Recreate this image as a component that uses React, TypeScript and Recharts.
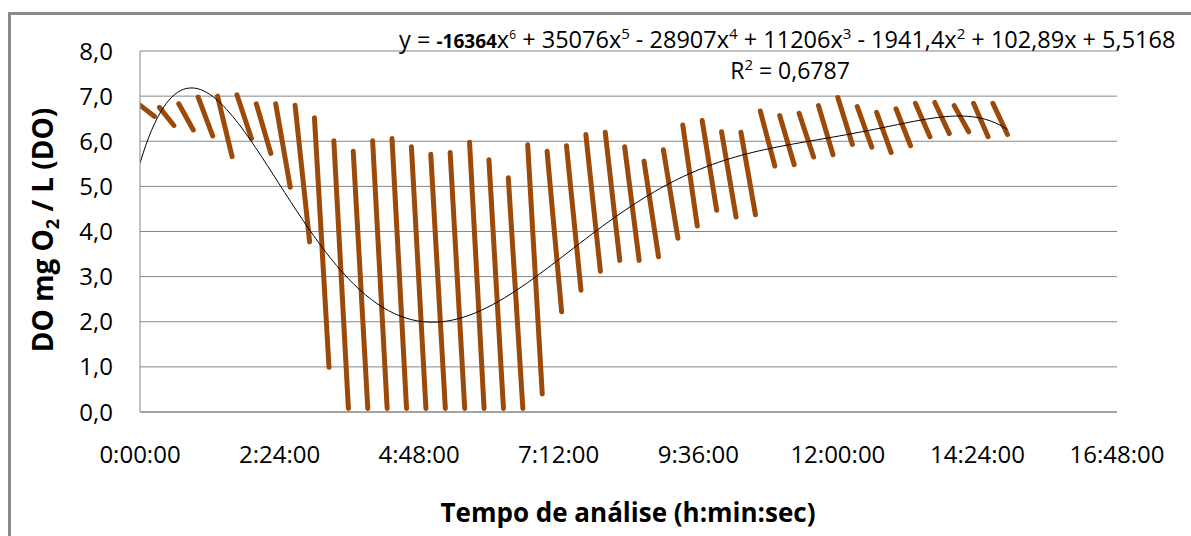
import React from "react";
import { LineChart, Line, XAxis, YAxis, CartesianGrid } from "recharts";

// dissolved oxygen probe runs: start of each run (min), reading at start and at end
const SEG_START_MIN = [
  0, 20, 40, 60, 80, 100, 120, 140, 160, 180, 200, 220, 240, 260, 280,
  300, 320, 340, 360, 380, 400, 420, 440, 460, 480, 500, 520, 540, 560, 580,
  600, 620, 640, 660, 680, 700, 720, 740, 760, 780, 800, 820, 840, 860, 880,
];
const SEG_TOP = [
  6.8, 6.75, 6.83, 6.98, 7.0, 7.03, 6.83, 6.83, 6.8, 6.52, 6.01, 5.78, 6.01, 6.06, 5.88,
  5.71, 5.75, 5.98, 5.59, 5.19, 5.92, 5.78, 5.9, 6.15, 6.2, 5.88, 5.56, 5.81, 6.36, 6.46,
  6.21, 6.2, 6.67, 6.57, 6.62, 6.79, 6.97, 6.77, 6.64, 6.72, 6.84, 6.86, 6.79, 6.84, 6.84,
];
const SEG_BOTTOM = [
  6.55, 6.35, 6.25, 6.12, 5.66, 6.06, 5.73, 4.98, 3.77, 0.99, 0.08, 0.08, 0.08, 0.08, 0.08,
  0.08, 0.08, 0.08, 0.08, 0.08, 0.4, 2.22, 2.7, 3.12, 3.36, 3.36, 3.44, 3.85, 4.12, 4.47,
  4.32, 4.37, 5.45, 5.48, 5.65, 5.7, 5.93, 5.87, 5.75, 5.9, 6.1, 6.17, 6.21, 6.1, 6.15,
];
const SEG_LENGTH_MIN = 15;

// polynomial trendline as printed on the chart (x in days), highest power first
const TREND_COEFS = [-16364, 35076, -28907, 11206, -1941.4, 102.89, 5.5168];

const X_TICKS = [0, 2.4, 4.8, 7.2, 9.6, 12, 14.4, 16.8];
const Y_TICKS = [0, 1, 2, 3, 4, 5, 6, 7, 8];

const doData: { t: number; v: number | null }[] = [];
SEG_START_MIN.forEach((s, i) => {
  doData.push({ t: s / 60, v: SEG_TOP[i] });
  doData.push({ t: (s + SEG_LENGTH_MIN) / 60, v: SEG_BOTTOM[i] });
  doData.push({ t: (s + SEG_LENGTH_MIN + 1) / 60, v: null });
});

const lastT = (SEG_START_MIN[SEG_START_MIN.length - 1] + SEG_LENGTH_MIN) / 60;
const trendData: { t: number; fit: number }[] = [];
for (let i = 0; i <= 150; i++) {
  const t = (lastT * i) / 150;
  const x = t / 24;
  const fit = TREND_COEFS.reduce((acc, c) => acc * x + c, 0);
  trendData.push({ t, fit });
}

const fmtTime = (h: number) => {
  const total = Math.round(h * 60);
  const hh = Math.floor(total / 60);
  const mm = total % 60;
  return `${hh}:${String(mm).padStart(2, "0")}:00`;
};

const FONT = "'Open Sans', sans-serif";
const GRID = "#868686";

export default function App() {
  return (
    <div style={{ position: "absolute", left: 0, top: 0, width: 1191, height: 536, background: "#fff" }}>
      <style>{`.do-series path, path.do-series, .do-series { stroke-linecap: round !important; stroke-linejoin: round !important; }`}</style>
      <div
        style={{
          position: "absolute",
          left: 8,
          top: 12,
          width: 1200,
          height: 600,
          borderLeft: "3px solid #8a8a8a",
          borderTop: "3px solid #8a8a8a",
        }}
      />
      <LineChart
        width={1191}
        height={536}
        margin={{ top: 51, right: 74, bottom: 64, left: 0 }}
        style={{ position: "absolute", left: 0, top: 0 }}
      >
        <CartesianGrid vertical={false} stroke={GRID} strokeWidth={1} />
        <XAxis
          type="number"
          dataKey="t"
          domain={[0, 16.8]}
          ticks={X_TICKS}
          tickFormatter={fmtTime}
          height={60}
          axisLine={{ stroke: GRID }}
          tickLine={false}
          tickSize={0}
          tickMargin={34}
          tick={{ fill: "#000", fontSize: 24, fontFamily: FONT }}
          allowDataOverflow
        />
        <YAxis
          type="number"
          domain={[0, 8]}
          ticks={Y_TICKS}
          tickFormatter={(v: number) => v.toFixed(1).replace(".", ",")}
          width={140}
          axisLine={{ stroke: GRID }}
          tickLine={false}
          tickSize={0}
          tickMargin={27}
          tick={{ fill: "#000", fontSize: 24, fontFamily: FONT }}
        />
        <Line
          className="do-series"
          data={doData}
          dataKey="v"
          type="linear"
          stroke="#9c4a0a"
          strokeWidth={5}
          dot={false}
          activeDot={false}
          connectNulls={false}
          isAnimationActive={false}
        />
        <Line
          data={trendData}
          dataKey="fit"
          type="monotone"
          stroke="#000"
          strokeWidth={1}
          dot={false}
          activeDot={false}
          isAnimationActive={false}
        />
      </LineChart>
      <svg
        width={1191}
        height={536}
        style={{ position: "absolute", left: 0, top: 0, pointerEvents: "none" }}
        fontFamily={FONT}
      >
        <text x={399} y={48} fontSize={23.5} fill="#000">
          y = <tspan fontWeight="bold" fontSize={19}>-16364</tspan>x
          <tspan fontSize={12} dy={-9}>6</tspan>
          <tspan dy={9}> + 35076x</tspan>
          <tspan fontSize={15} dy={-9}>5</tspan>
          <tspan dy={9}> - 28907x</tspan>
          <tspan fontSize={15} dy={-9}>4</tspan>
          <tspan dy={9}> + 11206x</tspan>
          <tspan fontSize={15} dy={-9}>3</tspan>
          <tspan dy={9}> - 1941,4x</tspan>
          <tspan fontSize={15} dy={-9}>2</tspan>
          <tspan dy={9}> + 102,89x + 5,5168</tspan>
        </text>
        <text x={790} y={79} fontSize={23} fill="#000" textAnchor="middle">
          R<tspan fontSize={15} dy={-9}>2</tspan>
          <tspan dy={9}> = 0,6787</tspan>
        </text>
        <text x={628} y={522} fontSize={26} fontWeight="bold" fill="#000" textAnchor="middle">
          Tempo de análise (h:min:sec)
        </text>
        <text
          transform="translate(53,230) rotate(-90)"
          x={0}
          y={0}
          fontSize={28}
          fontWeight="bold"
          fill="#000"
          textAnchor="middle"
        >
          DO mg O<tspan fontSize={18} dy={6}>2</tspan>
          <tspan dy={-6}> / L (DO)</tspan>
        </text>
      </svg>
    </div>
  );
}
